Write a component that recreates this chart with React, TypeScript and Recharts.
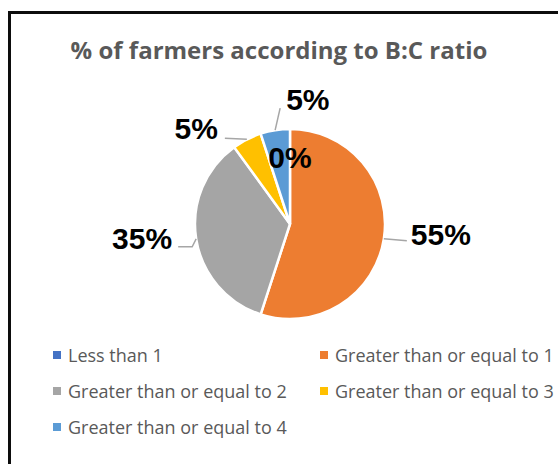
import { PieChart, Pie, Cell, Legend } from 'recharts'

const CATEGORIES = [
  'Less than 1',
  'Greater than or equal to 1',
  'Greater than or equal to 2',
  'Greater than or equal to 3',
  'Greater than or equal to 4',
]
const SHARES = [0, 55, 35, 5, 5]
const COLORS = ['#4472C4', '#ED7D31', '#A5A5A5', '#FFC000', '#5B9BD5']

const data = CATEGORIES.map((name, i) => ({ name, value: SHARES[i] }))

const RADIAN = Math.PI / 180

// Excel "best fit" placement, relative to where each slice meets the rim
const LABEL_LAYOUT = [
  { inside: true, dx: 0, dy: 0, anchor: 'middle', leader: [] as number[][] },
  { inside: false, dx: 27, dy: -4, anchor: 'start', leader: [[23, 2]] },
  { inside: false, dx: -24, dy: 0, anchor: 'end', leader: [[-4, 8], [-18, 8]] },
  { inside: false, dx: -29, dy: -11, anchor: 'end', leader: [[-22, -1]] },
  { inside: false, dx: 11, dy: -31, anchor: 'start', leader: [[5, -22]] },
]

function renderLabel(props: any) {
  const { cx, cy, midAngle, outerRadius, index, value } = props
  const layout = LABEL_LAYOUT[index]
  const r = layout.inside ? outerRadius * 0.7 : outerRadius
  const ex = cx + r * Math.cos(-midAngle * RADIAN)
  const ey = cy + r * Math.sin(-midAngle * RADIAN)
  const pts = [[ex, ey], ...layout.leader.map(([dx, dy]) => [ex + dx, ey + dy])]

  return (
    <g key={`label-${index}`}>
      {!layout.inside && (
        <polyline
          points={pts.map((p) => p.join(',')).join(' ')}
          fill="none"
          stroke="#A6A6A6"
          strokeWidth={1.5}
        />
      )}
      <text
        x={ex + layout.dx}
        y={ey + layout.dy}
        textAnchor={layout.anchor as any}
        dominantBaseline="central"
        fill="#000"
        fontFamily="Arial, 'Liberation Sans', sans-serif"
        fontWeight={700}
        fontSize={30}
      >
        {value}%
      </text>
    </g>
  )
}

function LegendGrid() {
  return (
    <div
      style={{
        display: 'grid',
        gridTemplateColumns: '267px 260px',
        gridAutoRows: '36px',
        paddingLeft: 53,
        fontFamily: "'Open Sans', sans-serif",
        fontSize: 18,
        color: '#595959',
        whiteSpace: 'nowrap',
      }}
    >
      {CATEGORIES.map((name, i) => (
        <div key={name} style={{ display: 'flex', alignItems: 'center' }}>
          <span
            style={{
              width: 8,
              height: 8,
              background: COLORS[i],
              marginRight: 7,
              flex: 'none',
            }}
          />
          {name}
        </div>
      ))}
    </div>
  )
}

export default function App() {
  return (
    <div
      style={{
        position: 'fixed',
        left: 0,
        top: 0,
        width: 558,
        height: 464,
        overflow: 'hidden',
        background: '#fff',
      }}
    >
      {/* chart frame, runs past the right and bottom edge */}
      <div
        style={{
          position: 'absolute',
          left: 8,
          top: 11,
          width: 600,
          height: 500,
          border: '3px solid #0d0d0d',
        }}
      />

      <div
        style={{
          position: 'absolute',
          left: 29,
          top: 30,
          width: 500,
          textAlign: 'center',
          fontFamily: "'Open Sans', sans-serif",
          fontWeight: 700,
          fontSize: 24,
          lineHeight: '40px',
          color: '#595959',
          whiteSpace: 'nowrap',
        }}
      >
        % of farmers according to B:C ratio
      </div>

      <div style={{ position: 'absolute', left: 0, top: 0 }}>
        <PieChart
          width={558}
          height={464}
          margin={{ top: 0, right: 0, bottom: 0, left: 0 }}
        >
          <Pie
            data={data}
            dataKey="value"
            nameKey="name"
            cx={290}
            cy={224}
            outerRadius={95}
            startAngle={90}
            endAngle={-270}
            stroke="#fff"
            strokeWidth={2.5}
            label={renderLabel}
            labelLine={false}
            isAnimationActive={false}
          >
            {data.map((d, i) => (
              <Cell key={d.name} fill={COLORS[i]} />
            ))}
          </Pie>
          <Legend
            content={() => <LegendGrid />}
            wrapperStyle={{ left: 0, top: 337, width: 558 }}
          />
        </PieChart>
      </div>
    </div>
  )
}
